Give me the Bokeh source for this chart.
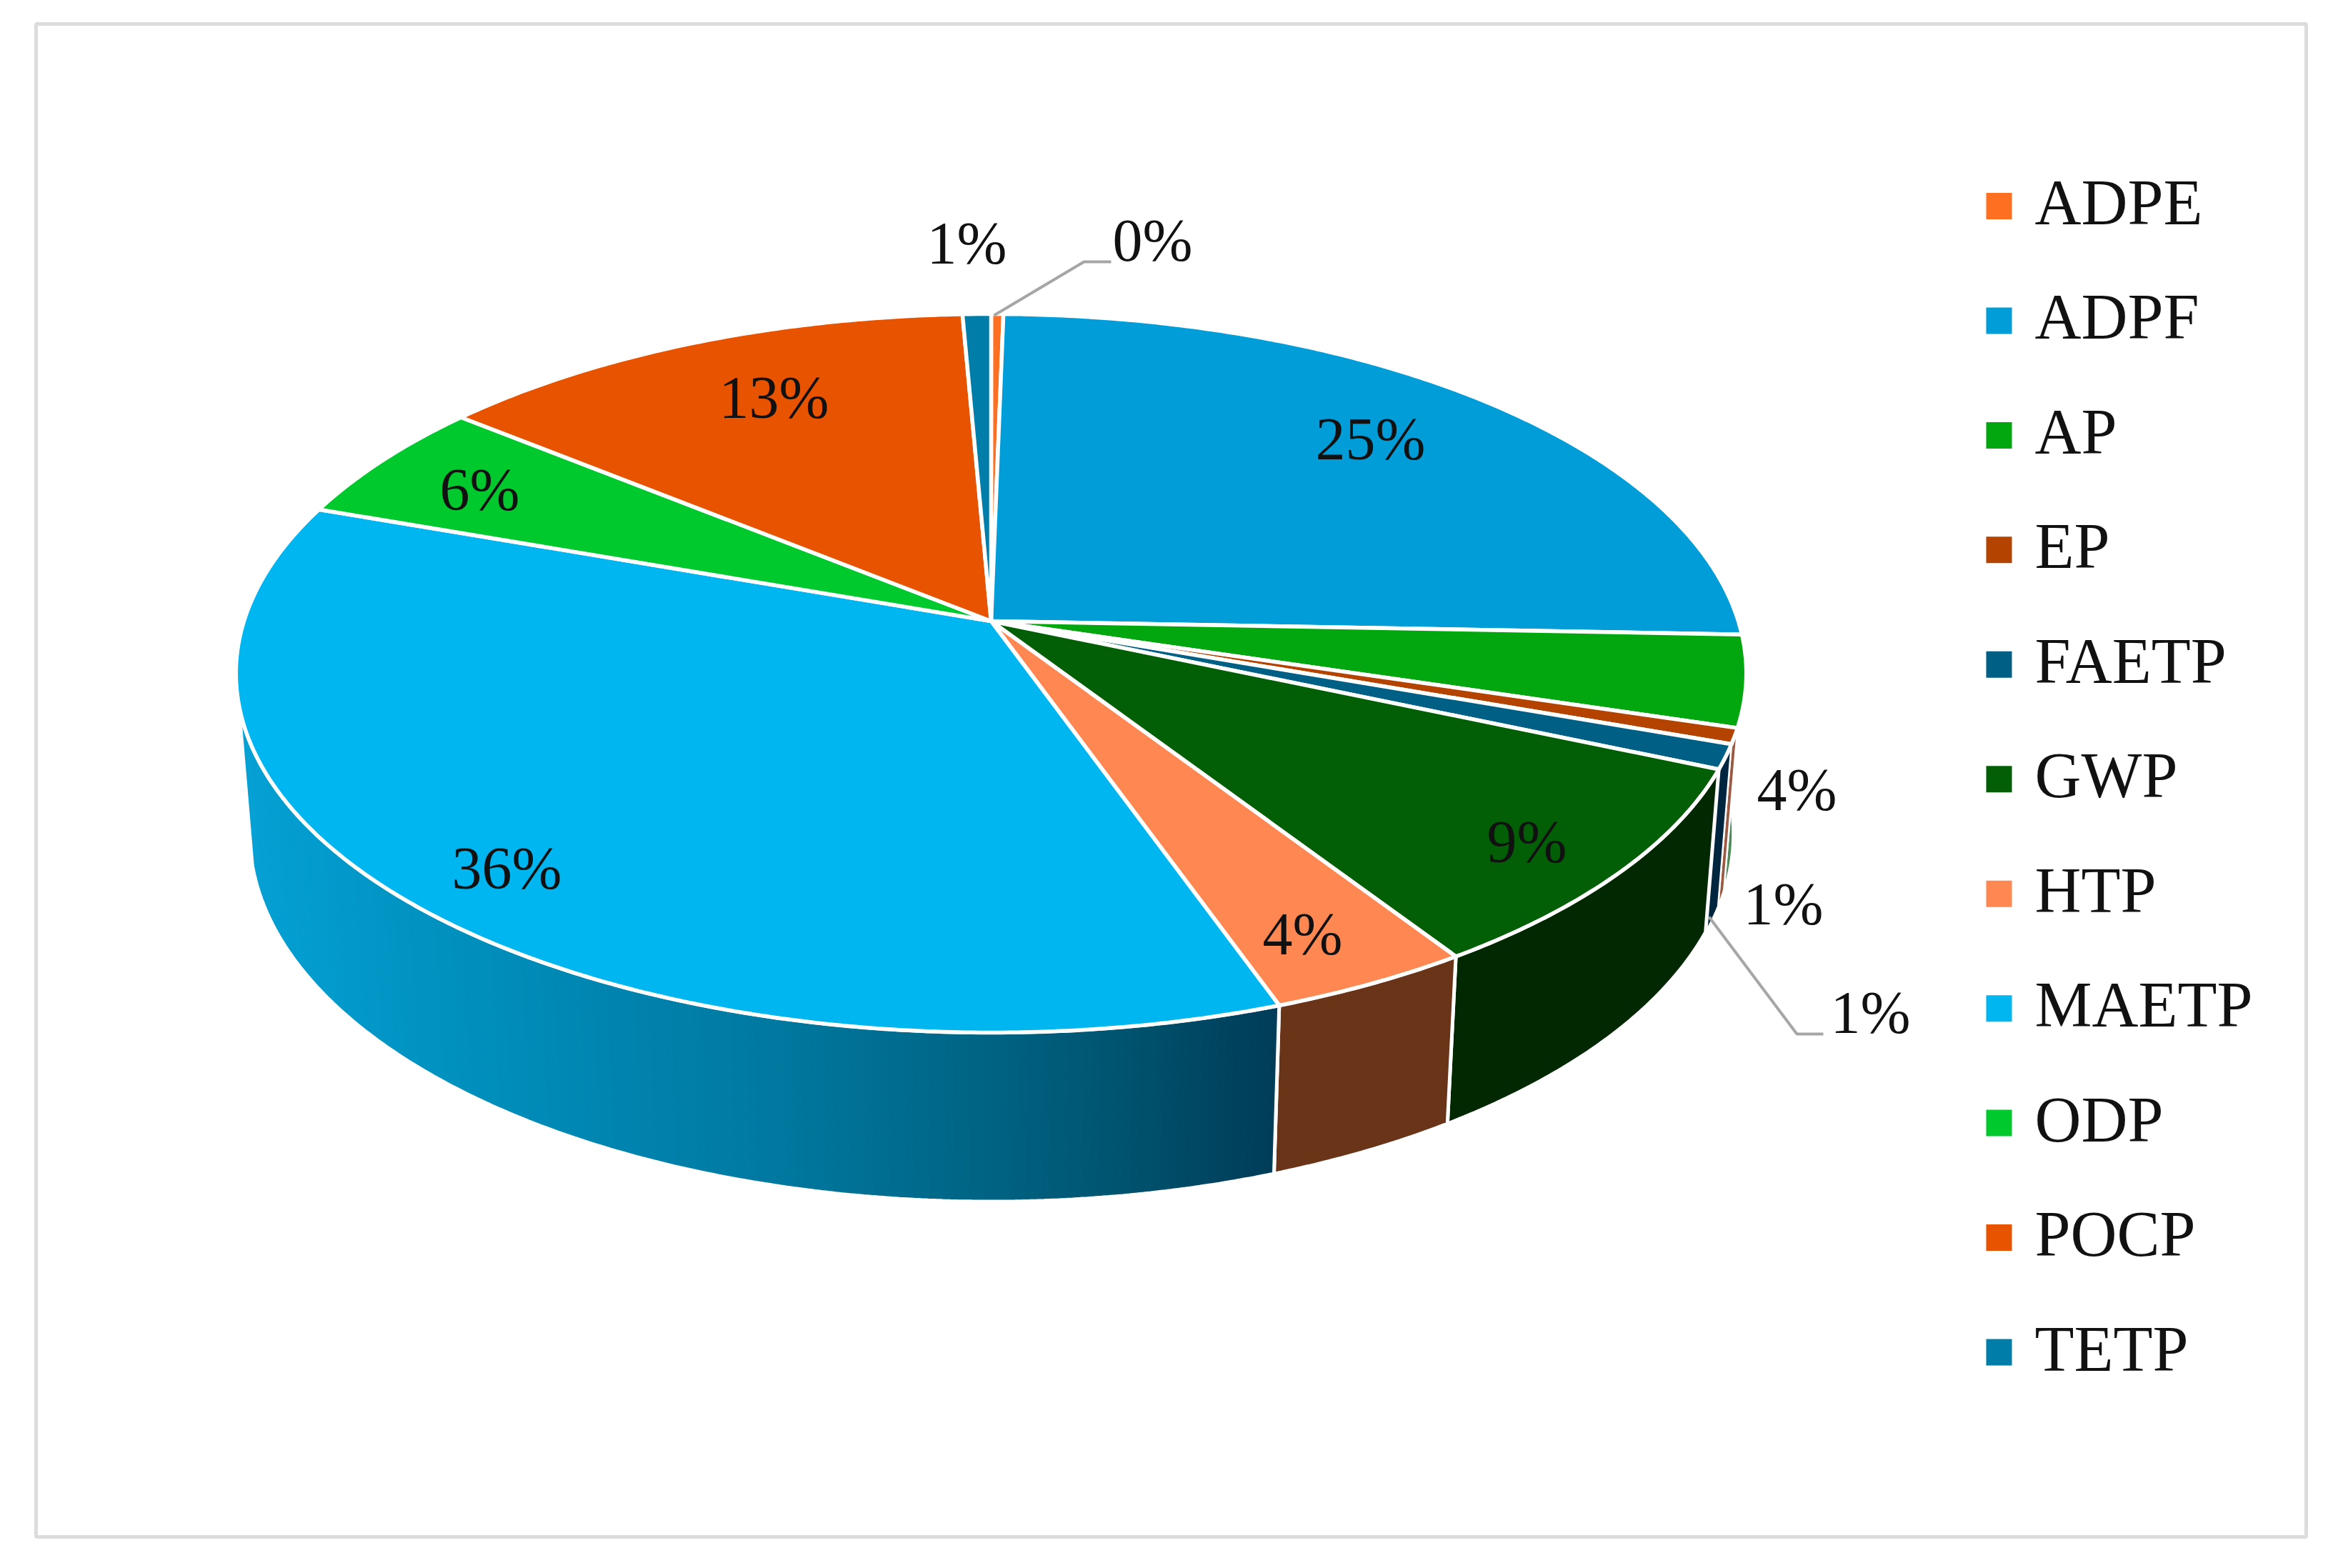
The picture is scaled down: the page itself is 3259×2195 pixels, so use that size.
import numpy as np
from bokeh.plotting import figure
from bokeh.models import Range1d
from bokeh.core.properties import value
from bokeh.embed import file_html
from bokeh.resources import INLINE

# ---- data ----
categories = ["ADPE", "ADPF", "AP", "EP", "FAETP", "GWP", "HTP", "MAETP", "ODP", "POCP", "TETP"]
shares = [0.3, 25.3, 4.1, 0.7, 1.1, 9.3, 3.8, 35.8, 5.5, 13.4, 0.7]
pct_labels = ["0%", "25%", "4%", "1%", "1%", "9%", "4%", "36%", "6%", "13%", "1%"]

# ---- styles ----
top_colors = ["#FF6F21", "#009DD9", "#02A60F", "#B54300", "#005F85", "#035F06",
              "#FF8852", "#00B6F0", "#00C92E", "#E85300", "#007DA8"]
wall_colors = ["#A04510", "#0090C0", "#4F8A58", "#9A5A44", "#00263F", "#012801",
               "#6A3419", "#0095C8", "#008020", "#903000", "#005070"]
wall_line_widths = [5, 5, 2.5, 2.5, 2.5, 5, 5, 5, 5, 5, 5]
wall_stops_x = [340, 600, 1085, 1375, 1565, 1790]
wall_stops_rgb = [(5, 160, 212), (0, 146, 192), (0, 120, 160), (0, 100, 132), (0, 84, 112), (0, 60, 88)]
label_xy = [(1613, 336), (1918, 614), (2515, 1105), (2496, 1265), (2618, 1417),
            (2137, 1178), (1823, 1307), (709, 1215), (671, 685), (1083, 556), (1353, 340)]
legend_x, legend_y0, legend_dy = 2848, 283, 160.45
FONT = "Liberation Serif"

# ---- geometry: tilted circle seen in perspective ----
X0, Y0, A, B, K = 1387.0, 869.0, 1046.0, 492.4, 0.1451
AB, BB, Y0B = 1027.0, 504.0, 1092.0


def top_pt(t):
    u, v = np.sin(t), np.cos(t)
    w = 1 + K * v
    return X0 + A * u / w, Y0 - B * v / w


def bot_pt(t):
    u, v = np.sin(t), np.cos(t)
    w = 1 + K * v
    return X0 + AB * u / w, Y0B - BB * v / w


W, H = 3243, 2179
p = figure(width=W, height=H, x_range=Range1d(0, W), y_range=Range1d(H, 0),
           output_backend="svg", toolbar_location=None, min_border=0,
           background_fill_color="white", border_fill_color="white")
p.axis.visible = False
p.grid.visible = False
p.outline_line_color = None

# frame
p.quad(left=[50], right=[3228], top=[33], bottom=[2151], fill_color=None,
       line_color="#DCDCDC", line_width=5)

total = sum(shares)
edges = np.concatenate([[0], np.cumsum(shares)]) / total * 2 * np.pi
WALL_FROM, WALL_TO = np.radians(88), np.radians(257)


def wall_poly(a, b):
    t = np.linspace(a, b, max(int((b - a) * 120), 3))
    xt, yt = top_pt(t)
    xb, yb = bot_pt(t[::-1])
    return np.concatenate([xt, xb]).tolist(), np.concatenate([yt, yb]).tolist()


def grad_color(x):
    rgb = [np.interp(x, wall_stops_x, [c[i] for c in wall_stops_rgb]) for i in range(3)]
    return "#%02x%02x%02x" % tuple(int(round(c)) for c in rgb)


# walls
for i, cat in enumerate(categories):
    a, b = max(edges[i], WALL_FROM), min(edges[i + 1], WALL_TO)
    if a >= b:
        continue
    if cat == "MAETP":
        steps = np.linspace(a, b, 181)
        xs, ys, cs = [], [], []
        for s0, s1 in zip(steps[:-1], steps[1:]):
            x, y = wall_poly(s0, s1)
            xs.append(x)
            ys.append(y)
            cs.append(grad_color(top_pt((s0 + s1) / 2)[0]))
        p.patches(xs, ys, fill_color=cs, line_color=cs, line_width=1)
        x, y = wall_poly(a, b)
        p.patch(x, y, fill_color=None, line_color="white", line_width=wall_line_widths[i])
    else:
        x, y = wall_poly(a, b)
        p.patch(x, y, fill_color=wall_colors[i], line_color="white", line_width=wall_line_widths[i])

# top face
for i in range(len(categories)):
    t = np.linspace(edges[i], edges[i + 1], max(int((edges[i + 1] - edges[i]) * 120), 3))
    xt, yt = top_pt(t)
    x = [X0] + xt.tolist()
    y = [Y0] + yt.tolist()
    p.patch(x, y, fill_color=top_colors[i], line_color="white", line_width=5.5, line_join="round")

# leader lines
p.line([1391, 1517, 1555], [441, 366, 366], line_color="#A6A6A6", line_width=4)
p.line([2392, 2515, 2552], [1283, 1447, 1447], line_color="#A6A6A6", line_width=4)

# data labels
p.text([xy[0] for xy in label_xy], [xy[1] for xy in label_xy], text=pct_labels,
       text_font=value(FONT), text_font_size="84px", text_color="#111111",
       text_align="center", text_baseline="middle")

# legend
ly = [legend_y0 + legend_dy * i for i in range(len(categories))]
p.rect([2798] * len(categories), [v + 5 for v in ly], width=36, height=37,
       fill_color=top_colors, line_color=None)
p.text([legend_x] * len(categories), ly, text=categories, text_font=value(FONT),
       text_font_size="90px", text_color="#111111", text_align="left", text_baseline="middle")

open("out.html", "w").write(file_html(p, INLINE))
